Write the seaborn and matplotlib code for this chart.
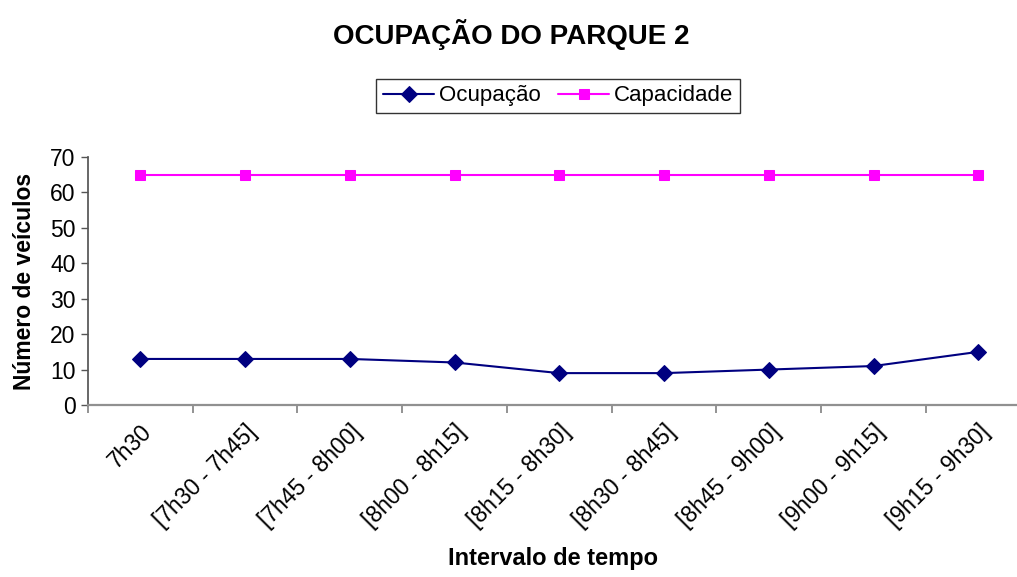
import matplotlib

matplotlib.use("Agg")
import matplotlib.pyplot as plt  # noqa: E402
import numpy as np
import pandas as pd
import seaborn as sns

# dados
intervalos = [
    "7h30",
    "[7h30 - 7h45]",
    "[7h45 - 8h00]",
    "[8h00 - 8h15]",
    "[8h15 - 8h30]",
    "[8h30 - 8h45]",
    "[8h45 - 9h00]",
    "[9h00 - 9h15]",
    "[9h15 - 9h30]",
]
ocupacao = [13, 13, 13, 12, 9, 9, 10, 11, 15]
capacidade = [65, 65, 65, 65, 65, 65, 65, 65, 65]

sns.set_theme(style="white")
plt.rcParams["font.family"] = ["Liberation Sans", "DejaVu Sans"]
plt.rcParams["text.color"] = "black"
plt.rcParams["axes.labelcolor"] = "black"
plt.rcParams["xtick.color"] = "black"
plt.rcParams["ytick.color"] = "black"

pos = np.arange(len(intervalos))
df = pd.DataFrame({"pos": pos, "Ocupação": ocupacao, "Capacidade": capacidade})

fig = plt.figure(figsize=(10.17, 5.77), dpi=100)
ax = fig.add_axes([88 / 1017, 1 - 405 / 577, (1017 - 88) / 1017, (405 - 157) / 577])

sns.lineplot(data=df, x="pos", y="Ocupação", ax=ax, color="#000080", marker="D",
             markersize=8, markeredgecolor="#000080", linewidth=1.5, label="Ocupação")
sns.lineplot(data=df, x="pos", y="Capacidade", ax=ax, color="#FF00FF", marker="s",
             markersize=7.5, markeredgecolor="#FF00FF", linewidth=1.5, label="Capacidade")

ax.set_xlim(-0.5, 8.37)
ax.set_ylim(0, 70)
ax.set_yticks(range(0, 71, 10))
ax.tick_params(axis="y", labelsize=16.5, length=5, width=1, color="#555555", pad=4,
               labelcolor="black", left=True, direction="out")

# marcas entre categorias, rótulos no centro (estilo Excel)
ax.set_xticks(np.arange(-0.5, 8.5, 1.0))
ax.set_xticklabels([])
ax.set_xticks(pos, minor=True)
ax.set_xticklabels(intervalos, minor=True, rotation=45, ha="right",
                   rotation_mode="anchor", fontsize=16.5)
ax.tick_params(axis="x", which="major", length=6, width=1.2, color="#808080",
               bottom=True, direction="out")
ax.tick_params(axis="x", which="minor", length=0, pad=11, labelcolor="black")

for s in ["top", "right"]:
    ax.spines[s].set_visible(False)
ax.spines["left"].set_color("#555555")
ax.spines["bottom"].set_color("#909090")
ax.spines["bottom"].set_linewidth(1.6)

ax.set_xlabel("Intervalo de tempo", fontsize=17, fontweight="bold", labelpad=11)
ax.set_ylabel("Número de veículos", fontsize=16.5, fontweight="bold", labelpad=10)

fig.text(0.503, 0.94, "OCUPAÇÃO DO PARQUE 2", ha="center", va="center",
         fontsize=20, fontweight="bold")

leg = ax.legend(loc="center", bbox_to_anchor=(558 / 1017, 1 - 96 / 577),
                bbox_transform=fig.transFigure, ncol=2, fontsize=16, frameon=True,
                fancybox=False, edgecolor="black", handlelength=2.3,
                handletextpad=0.2, columnspacing=0.8, borderpad=0.3)
leg.get_frame().set_linewidth(1.0)

fig.savefig("out.png", dpi=100)
